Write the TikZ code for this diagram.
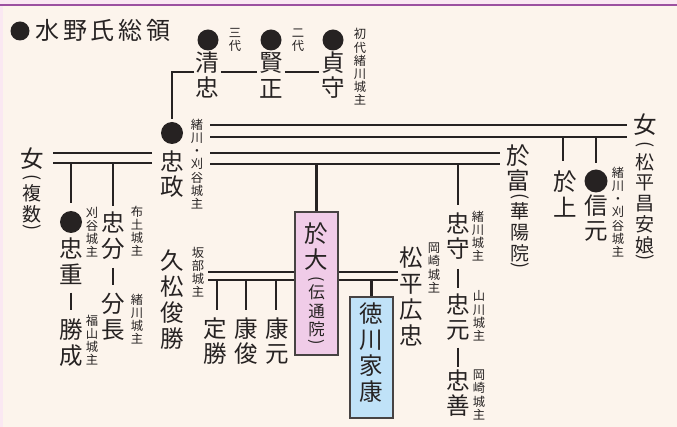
\documentclass[tikz,border=0pt]{standalone}
\usepackage{fontspec}
\setmainfont{Noto Sans CJK JP}
\newfontfamily\titlefont[LetterSpace=16]{Noto Sans CJK JP}
\usetikzlibrary{calc}
\definecolor{bg}{RGB}{252,244,236}
\definecolor{ink}{RGB}{38,34,34}
\definecolor{pinkbox}{RGB}{240,204,232}
\definecolor{bluebox}{RGB}{192,226,248}
\definecolor{topline}{RGB}{156,80,160}
\definecolor{edge}{RGB}{250,232,242}
\begin{document}
\begin{tikzpicture}[x=1pt,y=-1pt,
  nm/.style={font=\fontsize{23.5}{25.8}\selectfont, inner sep=0pt, align=center, text=ink},
  nt/.style={font=\fontsize{12.3}{13.2}\selectfont, inner sep=0pt, align=center, text=ink},
  pr/.style={font=\fontsize{19}{20.8}\selectfont, inner sep=0pt, align=center, text=ink},
  par/.style={font=\fontsize{18}{20}\selectfont, inner sep=0pt, text=ink, rotate=-90},
  dotn/.style={circle, fill=ink, inner sep=0pt, minimum size=#1},
  ln/.style={draw=ink, line width=2.2pt},
  sepl/.style={draw=ink, line width=2.4pt},
  boxn/.style={draw=ink!85, line width=1.6pt, inner sep=0pt}
]
\fill[bg] (0,0) rectangle (677,427);
\useasboundingbox (0,0) rectangle (677,427);
\fill[edge] (0,0) rectangle (677,4);
\fill[edge] (0,0) rectangle (3,427);
\draw[topline, line width=1.6pt] (0,5) -- (677,5);

% title
\node[dotn=19pt] (tdot) at (20,31) {};
\node[anchor=west, inner sep=0pt, text=ink, font=\titlefont\fontsize{24}{26}\selectfont] (title) at (35,30) {水野氏総領};

% ancestors
\node[dotn=21pt] (d3) at (208,40) {};
\node[nm] (kiyotada) at (207,75) {清\\忠};
\node[nt] (n3) at (235,40) {三\\代};
\node[dotn=21pt] (d2) at (271,40) {};
\node[nm] (katamasa) at (271,75) {賢\\正};
\node[nt] (n2) at (298,40) {二\\代};
\node[dotn=21pt] (d1) at (333,40) {};
\node[nm] (sadamori) at (333,75) {貞\\守};
\node[nt] (n1) at (360,67) {初\\代\\緒\\川\\城\\主};
\draw[ln] ([yshift=3pt,xshift=2pt]kiyotada.east) -- ([yshift=3pt,xshift=-2pt]katamasa.west);
\draw[ln] ([yshift=3pt,xshift=2pt]katamasa.east) -- ([yshift=3pt,xshift=-2pt]sadamori.west);

% tadamasa
\node[dotn=22pt] (dtm) at (172,133) {};
\node[nm] (tadamasa) at (172,174) {忠\\政};
\node[nt] (ntm) at (197,164) {緒\\川\\・\\刈\\谷\\城\\主};
\draw[ln] ([yshift=3pt,xshift=-1pt]kiyotada.west) -| ([yshift=3pt]dtm.north);

% right wife
\node[nm] (onnaR) at (645,125) {女};
\node[par] (mpL) at (645,145) {(};
\node[pr] (matsuR) at (645,203.5) {松\\平\\昌\\安\\娘};
\node[par] (mpR) at (645,258) {)};
\node[nm] (oue) at (565,194) {於\\上};
\node[dotn=23pt] (dnm) at (596,181) {};
\node[nm] (nobumoto) at (596,218) {信\\元};
\node[nt] (nnm) at (618,212) {緒\\川\\・\\刈\\谷\\城\\主};

% otomi
\node[nm] (otomi) at (518,168) {於\\富};
\node[par] (kyL) at (520,197) {(};
\node[pr] (kayo) at (520,232) {華\\陽\\院};
\node[par] (kyR) at (520,266) {)};

\coordinate (tmA) at (210,125);
\coordinate (tmB) at (210,137);
\coordinate (tmC) at (210,153);
\coordinate (tmD) at (210,164);
\coordinate (rEnd) at ([xshift=-6pt]onnaR.west);
\coordinate (oEnd) at ([xshift=-6pt]otomi.west);
\draw[ln] (tmA) -- (tmA -| rEnd);
\draw[ln] (tmB) -- (tmB -| rEnd);
\draw[ln] (tmC) -- (tmC -| oEnd);
\draw[ln] (tmD) -- (tmD -| oEnd);
\draw[ln] ([xshift=-2pt]oue.north |- tmB) -- ([xshift=-2pt,yshift=10pt]oue.north);
\draw[ln] (dnm.north |- tmB) -- ([yshift=6pt]dnm.north);

% left wife
\node[nm] (onnaL) at (32,159) {女};
\node[par] (fkL) at (32,178) {(};
\node[pr] (fukusu) at (32,203.5) {複\\数};
\node[par] (fkR) at (32,228) {)};
\coordinate (lA) at (152,153);
\coordinate (lB) at (152,163);
\coordinate (lEnd) at ([xshift=9pt]onnaL.east);
\draw[ln] (lA) -- (lA -| lEnd);
\draw[ln] (lB) -- (lB -| lEnd);

\node[dotn=22pt] (dts) at (71,222) {};
\node[nm] (tadashige) at (71,261) {忠\\重};
\node[nt] (nts) at (92,232) {刈\\谷\\城\\主};
\node[nm] (katsunari) at (71,343) {勝\\成};
\node[nt] (nkn) at (92,340) {福\\山\\城\\主};
\draw[ln] (dts.north |- lB) -- ([yshift=8pt]dts.north);
\draw[sepl] ([yshift=-8pt]tadashige.south) -- ([yshift=9pt]katsunari.north);

\node[nm] (tadawake) at (113,236) {忠\\分};
\node[nt] (ntw) at (137,231) {布\\土\\城\\主};
\node[nm] (wakenaga) at (113,317) {分\\長};
\node[nt] (nwn) at (137,319) {緒\\川\\城\\主};
\draw[ln] (tadawake.north |- lB) -- ([yshift=6pt]tadawake.north);
\draw[sepl] ([yshift=-8pt]tadawake.south) -- ([yshift=8pt]wakenaga.north);

% odai
\node[boxn, fill=pinkbox, minimum width=43pt, minimum height=143pt] (odaiBox) at (316.5,283.5) {};
\node[nm] (odai) at (316.5,246.5) {於\\大};
\node[par, font=\fontsize{16}{18}\selectfont] (dtL) at (316.5,279) {(};
\node[pr, font=\fontsize{16.5}{18.5}\selectfont] (dentsu) at (316.5,311) {伝\\通\\院};
\node[par, font=\fontsize{16}{18}\selectfont] (dtR) at (316.5,342) {)};
\draw[ln] (odaiBox.north |- tmD) -- (odaiBox.north);

% tadamori line
\node[nm] (tadamori) at (458,236) {忠\\守};
\node[nt] (ntmr) at (478,236) {緒\\川\\城\\主};
\node[nm] (tadamoto) at (458,317) {忠\\元};
\node[nt] (ntmt) at (479,316) {山\\川\\城\\主};
\node[nm] (tadayoshi) at (458,393) {忠\\善};
\node[nt] (nty) at (479,395) {岡\\崎\\城\\主};
\draw[ln] (tadamori.north |- tmD) -- ([yshift=7pt]tadamori.north);
\draw[sepl] ([yshift=-9pt]tadamori.south) -- ([yshift=5pt]tadamoto.north);
\draw[sepl] ([yshift=-7pt]tadamoto.south) -- ([yshift=2pt]tadayoshi.north);

% hisamatsu
\node[nm] (hisamatsu) at (172,299.5) {久\\松\\俊\\勝};
\node[nt] (nhm) at (198,272) {坂\\部\\城\\主};
\coordinate (hA) at (208,272);
\coordinate (hB) at (208,280);
\draw[ln] (hA) -- (hA -| odaiBox.west);
\draw[ln] (hB) -- (hB -| odaiBox.west);
\node[nm] (sadakatsu) at (215,341) {定\\勝};
\node[nm] (yasutoshi) at (246,341) {康\\俊};
\node[nm] (yasumoto) at (277,341) {康\\元};
\draw[ln] ([xshift=2pt]sadakatsu.north |- hB) -- ([xshift=2pt,yshift=7pt]sadakatsu.north);
\draw[ln] (yasutoshi.north |- hB) -- ([yshift=7pt]yasutoshi.north);
\draw[ln] ([xshift=-1pt]yasumoto.north |- hB) -- ([xshift=-1pt,yshift=7pt]yasumoto.north);

% hirotada
\node[nm] (hirotada) at (411,296.5) {松\\平\\広\\忠};
\node[nt] (nht) at (434,268) {岡\\崎\\城\\主};
\coordinate (pA) at (398,272);
\coordinate (pB) at (398,280);
\draw[ln] (odaiBox.east |- pA) -- (pA);
\draw[ln] (odaiBox.east |- pB) -- (pB);

% ieyasu
\node[boxn, fill=bluebox, minimum width=43pt, minimum height=121pt] (ieyasuBox) at (371.5,357.5) {};
\node[nm, font=\fontsize{23.5}{26}\selectfont] (ieyasu) at (371.5,353) {徳\\川\\家\\康};
\draw[ln] (ieyasuBox.north |- pB) -- (ieyasuBox.north);
\end{tikzpicture}
\end{document}
